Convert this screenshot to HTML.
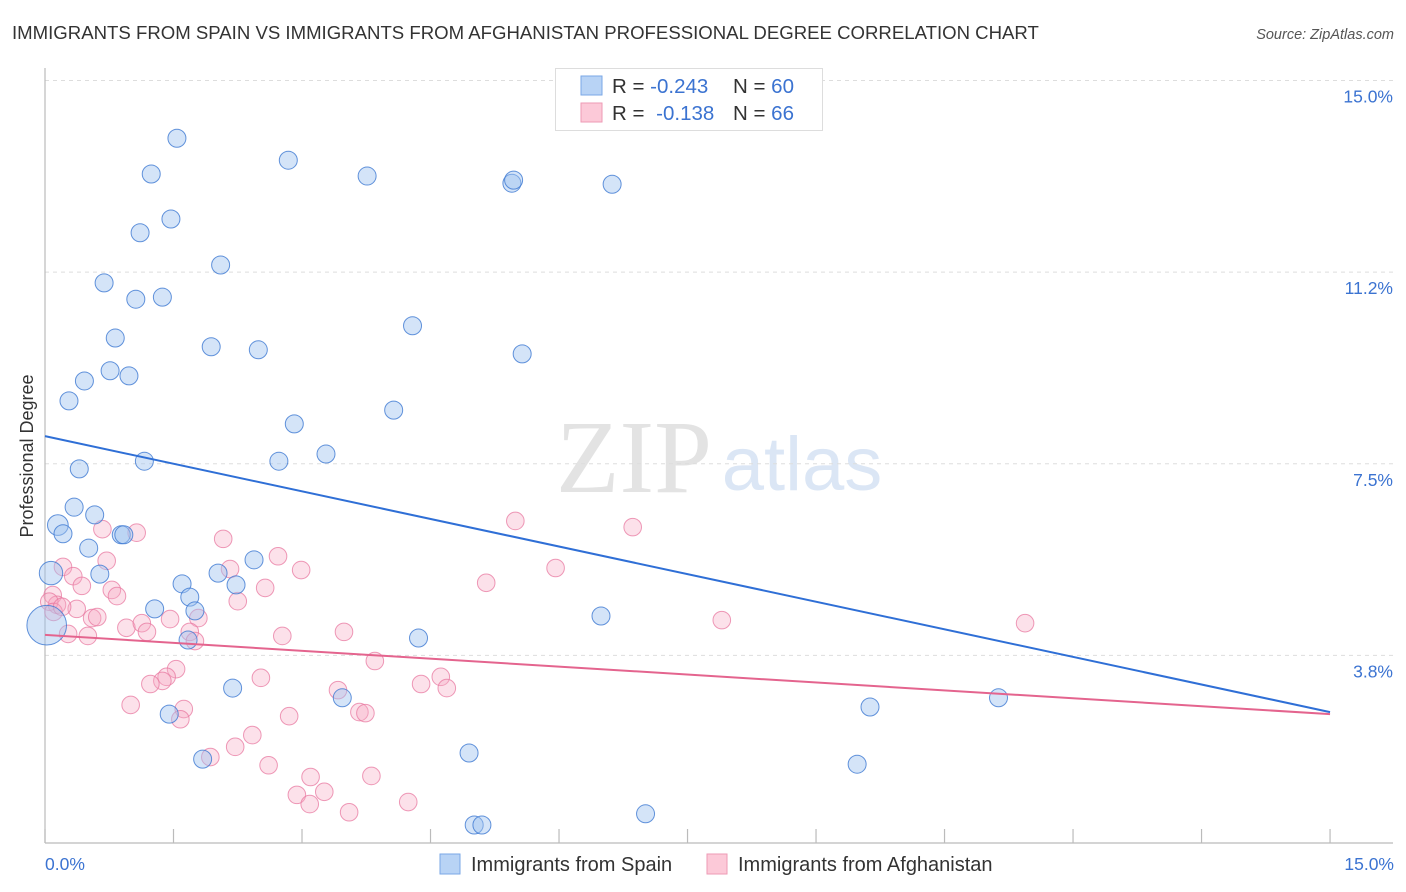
<!DOCTYPE html>
<html><head><meta charset="utf-8"><style>
body{margin:0;background:#fff;font-family:"Liberation Sans",sans-serif;}
svg{display:block}
</style></head><body>
<svg id="chart" width="1406" height="892" viewBox="0 0 1406 892" xmlns="http://www.w3.org/2000/svg">
<text x="12" y="39" font-size="18.6" fill="#333">IMMIGRANTS FROM SPAIN VS IMMIGRANTS FROM AFGHANISTAN PROFESSIONAL DEGREE CORRELATION CHART</text>
<text x="1394" y="39" font-size="14.5" fill="#555" font-style="italic" text-anchor="end">Source: ZipAtlas.com</text>
<g>
<text x="634" y="492" font-size="104" fill="#e3e3e3" font-family="Liberation Serif, serif" text-anchor="middle">ZIP</text>
<text x="802" y="490" font-size="76" fill="#dbe6f5" text-anchor="middle">atlas</text>
</g>
<g id="grid"></g>
<line x1="45" y1="68" x2="45" y2="843" stroke="#bbb" stroke-width="1.2"/>
<line x1="45" y1="843" x2="1393" y2="843" stroke="#bbb" stroke-width="1.2"/>
<g id="xticks"></g>
<g id="ylabels"></g>
<text x="45" y="870" font-size="17.5" fill="#3b73d1">0.0%</text>
<text x="1394" y="870" font-size="17.5" fill="#3b73d1" text-anchor="end">15.0%</text>
<text transform="translate(33,456) rotate(-90)" font-size="18" fill="#333" text-anchor="middle">Professional Degree</text>
<g id="pinkpts"></g>
<g id="bluepts"></g>
<g id="lines"></g>
<g>
<rect x="555.5" y="68.5" width="267" height="62" fill="#fff" stroke="#ddd"/>
<rect x="581" y="76" width="21" height="19" fill="#b8d3f5" stroke="#7aa7e6"/>
<rect x="581" y="103" width="21" height="19" fill="#fcc9d8" stroke="#ee9ab5"/>
<text x="612" y="93" font-size="20.5" fill="#333">R = <tspan fill="#3b73d1">-0.243</tspan></text>
<text x="733" y="93" font-size="20.5" fill="#333">N = <tspan fill="#3b73d1">60</tspan></text>
<text x="612" y="120" font-size="20.5" fill="#333">R = <tspan fill="#3b73d1" dx="6">-0.138</tspan></text>
<text x="733" y="120" font-size="20.5" fill="#333">N = <tspan fill="#3b73d1">66</tspan></text>
</g>
<g>
<rect x="440" y="854" width="20" height="20" fill="#b8d3f5" stroke="#7aa7e6"/>
<text x="471" y="871" font-size="20" fill="#333">Immigrants from Spain</text>
<rect x="707" y="854" width="20" height="20" fill="#fcc9d8" stroke="#ee9ab5"/>
<text x="738" y="871" font-size="20" fill="#333">Immigrants from Afghanistan</text>
</g>
</svg>
<script>
const yTicks=[3.75,7.5,11.25,15];
const yTickLabels=["3.8%","7.5%","11.2%","15.0%"];
const xTicks=[0,1.5,3,4.5,6,7.5,9,10.5,12,13.5,15];
const spainX=[1.54,1.24,2.84,3.76,5.45,5.47,6.62,1.11,1.47,2.05,0.69,1.06,1.37,4.29,0.82,1.94,2.49,5.57,0.76,0.98,0.46,0.28,4.07,2.91,3.28,2.73,1.16,0.40,0.34,0.58,0.15,0.21,0.89,0.92,0.51,2.44,0.07,0.64,1.60,2.02,2.23,1.69,1.28,1.75,6.49,4.36,1.67,0.02,2.19,3.47,11.13,1.45,9.63,4.95,1.84,9.48,7.01,5.01,5.10];
const spainY=[13.87,13.17,13.44,13.13,12.99,13.05,12.97,12.02,12.29,11.39,11.04,10.72,10.76,10.20,9.96,9.79,9.73,9.65,9.32,9.22,9.12,8.73,8.55,8.28,7.69,7.55,7.55,7.40,6.65,6.50,6.30,6.13,6.11,6.11,5.85,5.62,5.36,5.34,5.15,5.36,5.13,4.89,4.66,4.62,4.52,4.09,4.05,4.34,3.11,2.92,2.92,2.60,2.74,1.84,1.72,1.62,0.65,0.43,0.43];
const spainSize=[1,1,1,1,1,1,1,1,1,1,1,1,1,1,1,1,1,1,1,1,1,1,1,1,1,1,1,1,1,1,1.15,1,1,1,1,1,1.3,1,1,1,1,1,1,1,1,1,1,2.2,1,1,1,1,1,1,1,1,1,1,1];
const afgX=[0.67,1.07,2.08,0.21,0.72,0.33,0.43,2.16,2.72,2.99,0.78,0.84,2.57,2.25,0.09,0.14,0.37,0.55,0.61,0.95,1.13,1.19,1.46,1.79,1.69,1.75,0.27,0.50,2.77,3.49,3.85,1.53,1.42,1.37,1.23,2.52,1.00,1.62,1.58,3.42,3.67,3.74,2.85,4.39,4.62,4.69,2.42,2.22,1.93,2.61,3.10,3.81,3.26,2.94,3.09,3.55,4.24,5.49,6.86,5.15,5.96,7.90,11.44,0.05,0.10,0.20];
const afgY=[6.22,6.15,6.03,5.48,5.60,5.30,5.11,5.44,5.69,5.42,5.03,4.91,5.07,4.81,4.93,4.74,4.66,4.48,4.50,4.29,4.38,4.21,4.46,4.48,4.21,4.03,4.17,4.13,4.13,4.21,3.64,3.48,3.33,3.25,3.19,3.31,2.78,2.70,2.50,3.07,2.64,2.62,2.56,3.19,3.33,3.11,2.19,1.96,1.76,1.60,1.37,1.39,1.08,1.02,0.84,0.68,0.88,6.38,6.26,5.17,5.46,4.44,4.38,4.80,4.60,4.70];
const trendX=[0,15];
const spainTrend=[8.04,2.64];
const afgTrend=[4.15,2.60];
const X=v=>45+v*85.67, Y=v=>847-v*51.1;
const NS="http://www.w3.org/2000/svg";
function mk(tag,attrs,parent){const e=document.createElementNS(NS,tag);for(const k in attrs)e.setAttribute(k,attrs[k]);parent.appendChild(e);return e;}
const grid=document.getElementById('grid'),yl=document.getElementById('ylabels'),xt=document.getElementById('xticks');
yTicks.forEach((t,i)=>{
 const l=mk('line',{x1:45,x2:1393,y1:Y(t),y2:Y(t),stroke:'#ddd','stroke-dasharray':'4,4'},grid);
 
 
 const tx=mk('text',{x:1393,y:Y(t)+22,'font-size':17.5,fill:'#3b73d1','text-anchor':'end'},yl);
 tx.textContent=yTickLabels[i];
 
 
});
xTicks.forEach(t=>{
 const l=mk('line',{x1:X(t),x2:X(t),y1:829,y2:843,stroke:'#bbb','stroke-width':1.2},xt);
 
 
});
const pp=document.getElementById('pinkpts');
afgX.forEach((v,i)=>{
 const c=mk('circle',{cx:X(v),cy:Y(afgY[i]),r:8.8,fill:'rgba(247,170,195,0.35)',stroke:'rgba(232,120,160,0.75)','stroke-width':1},pp);
 
 
});
const bp=document.getElementById('bluepts');
spainX.forEach((v,i)=>{
 const c=mk('circle',{cx:X(v),cy:Y(spainY[i]),r:9*spainSize[i],fill:'rgba(160,195,240,0.45)',stroke:'rgba(60,120,210,0.8)','stroke-width':1},bp);
 
 
});
const lg=document.getElementById('lines');
const l1=mk('line',{x1:X(trendX[0]),y1:Y(spainTrend[0]),x2:X(trendX[1]),y2:Y(spainTrend[1]),stroke:'#2f6fd6','stroke-width':2},lg);


const l2=mk('line',{x1:X(trendX[0]),y1:Y(afgTrend[0]),x2:X(trendX[1]),y2:Y(afgTrend[1]),stroke:'#e4648e','stroke-width':2},lg);


</script>
</body></html>
